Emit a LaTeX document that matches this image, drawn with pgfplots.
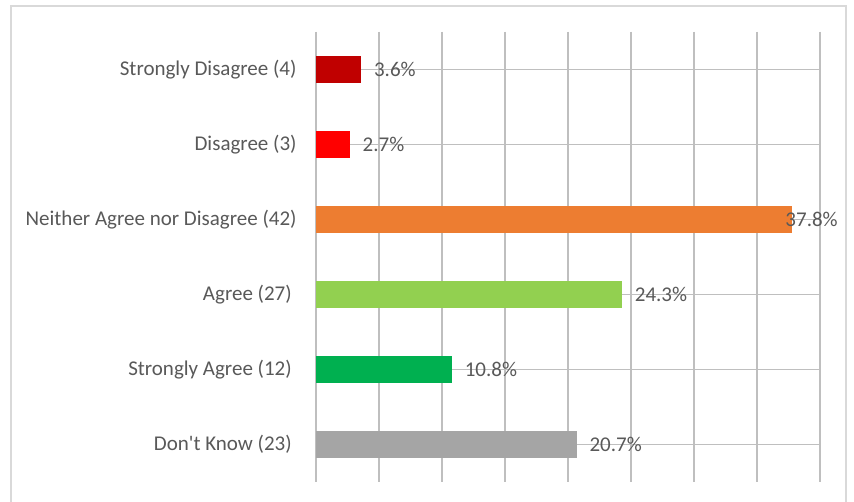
\documentclass[border=0pt]{standalone}
\usepackage{fontspec}
\setmainfont{Carlito}
\usepackage{pgfplots}
\pgfplotsset{compat=1.18}
\definecolor{txt}{HTML}{595959}
\definecolor{grid}{HTML}{D9D9D9}
\definecolor{frame}{HTML}{D9D9D9}
\definecolor{cSD}{HTML}{C00000}
\definecolor{cD}{HTML}{FF0000}
\definecolor{cN}{HTML}{ED7D31}
\definecolor{cA}{HTML}{92D050}
\definecolor{cSA}{HTML}{00B050}
\definecolor{cDK}{HTML}{A5A5A5}
\begin{document}
\begin{tikzpicture}[x=1pt,y=1pt]
\path[use as bounding box] (0,0) rectangle (854,502);
\fill[white] (0,0) rectangle (854,502);
\draw[frame, line width=1.5pt] (11,-2) -- (11,496) -- (846,496) -- (846,-2);
\begin{axis}[
  at={(316pt,20pt)}, anchor=south west,
  scale only axis, width=504pt, height=450pt,
  xmin=0, xmax=40, ymin=-0.5, ymax=5.5, y dir=reverse,
  axis line style={draw=none},
  xtick={0,5,...,40}, xticklabels={},
  xmajorgrids, major grid style={grid, line width=1.4pt},
  ytick={0,1,2,3,4,5},
  yticklabels={Strongly Disagree (4), Disagree (3), Neither Agree nor Disagree (42), Agree (27)\rule{4.8pt}{0pt}, Strongly Agree (12)\rule{4.8pt}{0pt}, Don\textquotesingle t Know (23)\rule{4.8pt}{0pt}},
  tick style={draw=none},
  yticklabel style={font=\fontsize{21}{25}\selectfont, text=txt, anchor=east, inner sep=0pt, xshift=-15pt},
  xbar, bar width=27pt, bar shift=0pt,
  point meta=explicit symbolic,
  nodes near coords,
  every node near coord/.style={font=\fontsize{21}{25}\selectfont, text=txt, anchor=west, inner sep=0pt, xshift=12.5pt},
]
\addplot[fill=cSD, draw=none] coordinates {(3.6,0) [3.6\%]};
\addplot[fill=cD, draw=none] coordinates {(2.7,1) [2.7\%]};
\addplot[fill=cN, draw=none, every node near coord/.append style={xshift=-19.5pt}] coordinates {(37.8,2) [37.8\%]};
\addplot[fill=cA, draw=none] coordinates {(24.3,3) [24.3\%]};
\addplot[fill=cSA, draw=none] coordinates {(10.8,4) [10.8\%]};
\addplot[fill=cDK, draw=none] coordinates {(20.7,5) [20.7\%]};
\end{axis}
\end{tikzpicture}
\end{document}
